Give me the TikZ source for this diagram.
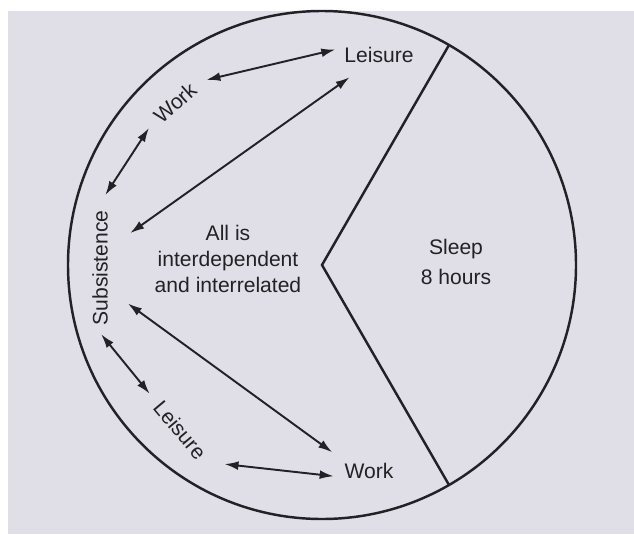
\documentclass[tikz,border=0pt]{standalone}
\usepackage{fontspec}
\setmainfont{Liberation Sans}
\usetikzlibrary{arrows.meta,calc}
\definecolor{PageGray}{HTML}{E0DFE7}
\definecolor{InkDark}{HTML}{222226}

\begin{document}
\begin{tikzpicture}[
    x=0.02cm, y=-0.02cm,
    ink/.style={draw=InkDark, line width=1.4pt},
    lbl/.style={inner sep=4pt, text=InkDark, font=\fontsize{12}{15}\selectfont},
    both/.style={draw=InkDark, line width=1.1pt, {Latex[length=8pt,width=5pt]}-{Latex[length=8pt,width=5pt]}}
  ]
    \useasboundingbox (0,0) rectangle (634,534);
    \fill[PageGray] (8,11) rectangle (634,534);

    \coordinate (hub) at (322,265);
    \draw[ink] (hub) circle[radius=254];
    \draw[ink, line join=miter] ($(hub)+(-60:254)$) -- (hub) -- ($(hub)+(60:254)$);

    \node[lbl] (leisT) at (379,55) {Leisure};
    \node[lbl, rotate=42] (workT) at (175,103) {Work};
    \node[lbl, rotate=90] (subs) at (100,268) {Subsistence};
    \node[lbl, rotate=-50] (leisB) at (180,430) {Leisure};
    \node[lbl] (workB) at (369,471) {Work};
    \node[lbl, align=center] (core) at (228,259) {All is\\interdependent\\and interrelated};
    \node[lbl, align=center] (sleep) at (456,262) {Sleep\\[2pt]8 hours};

    \draw[both, shorten <=4.5pt, shorten >=1pt] (workT.east) -- (leisT.172);
    \draw[both, shorten <=2.5pt, shorten >=5.5pt] (workT.west) -- (subs.east);
    \draw[both, shorten <=10.5pt, shorten >=7pt] (subs.-32) -- (leisT.218);
    \draw[both, shorten <=9pt, shorten >=3.5pt] (subs.210) -- (workB.north west);
    \draw[both, shorten <=1pt, shorten >=3pt] (subs.west) -- (leisB.west);
    \draw[both, shorten <=10pt, shorten >=2pt] (leisB.east) -- (workB.190);
\end{tikzpicture}
\end{document}
